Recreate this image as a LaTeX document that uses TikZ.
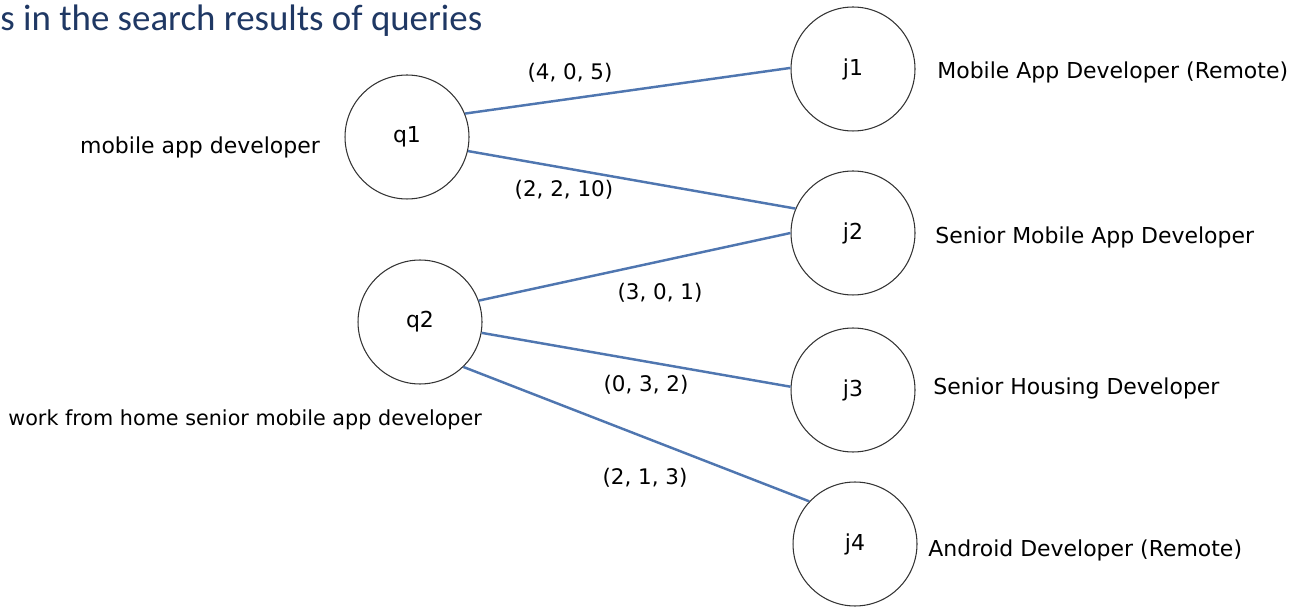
\documentclass[tikz,border=0pt]{standalone}
\usepackage{fontspec}
\setmainfont{DejaVu Sans}
\newfontfamily\titlefont{Carlito}
\definecolor{edgeblue}{RGB}{79,118,176}
\definecolor{titleblue}{RGB}{31,56,100}
\begin{document}
\begin{tikzpicture}[x=0.02cm, y=-0.02cm,
  vtx/.style={circle, draw=black!80, line width=0.6pt, minimum size=2.48cm, inner sep=0pt, font=\fontsize{12.5}{14}\selectfont},
  lbl/.style={inner sep=0pt, font=\fontsize{12.5}{14}\selectfont},
  wt/.style={inner sep=0pt, font=\fontsize{12.2}{14}\selectfont},
  link/.style={draw=edgeblue, line width=1.4pt}]
\useasboundingbox (0,0) rectangle (1308,607);
\node[anchor=base west, inner sep=0pt, text=titleblue, font=\titlefont\fontsize{21}{24}\selectfont] (title) at (0,31) {s in the search results of queries};
% queries
\node[vtx] (q1) at (407,137) {q1};
\node[vtx] (q2) at (420,322) {q2};
\node[lbl] (q1txt) at (200,147) {mobile app developer};
\node[lbl, anchor=west, font=\fontsize{11.8}{13}\selectfont] (q2txt) at (8,420) {work from home senior mobile app developer};
% jobs
\node[vtx] (j1) at (853,69) {j1};
\node[vtx] (j2) at (853,233) {j2};
\node[vtx] (j3) at (853,390) {j3};
\node[vtx] (j4) at (855,544) {j4};
\node[lbl, anchor=west] (j1txt) at (937,72) {Mobile App Developer (Remote)};
\node[lbl, anchor=west] (j2txt) at (935,237) {Senior Mobile App Developer};
\node[lbl, anchor=west] (j3txt) at (933,388) {Senior Housing Developer};
\node[lbl, anchor=west] (j4txt) at (928,550) {Android Developer (Remote)};
% edges
\draw[link](q1.22) -- (j1.179);
\draw[link](q1.347) -- (j2.157);
\draw[link](q2.20) -- (j2.180);
\draw[link](q2.350) -- (j3.177);
\draw[link](q2.314) -- (j4.137);
\node[wt] (w11) at (570,73) {(4, 0, 5)};
\node[wt] (w12) at (564,190) {(2, 2, 10)};
\node[wt] (w22) at (660,293) {(3, 0, 1)};
\node[wt] (w23) at (646,385) {(0, 3, 2)};
\node[wt] (w24) at (645,478) {(2, 1, 3)};

\end{tikzpicture}
\end{document}
